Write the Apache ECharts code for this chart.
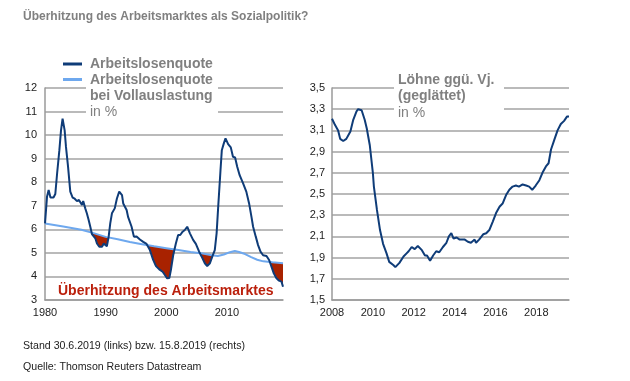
<!DOCTYPE html>
<html><head><meta charset="utf-8">
<script src="https://cdn.jsdelivr.net/npm/echarts@6/dist/echarts.min.js"></script>
<style>html,body{margin:0;padding:0;background:#fff}#c{width:630px;height:381px}</style>
</head><body><div id="c"></div>
<script>
// Left chart: unemployment rate (Arbeitslosenquote), %
const uYears = [1980.0,1980.33,1980.6,1980.9,1981.4,1981.7,1982.0,1982.37,1982.64,1982.9,1983.24,1983.46,1983.8,1984.17,1984.56,1984.9,1985.27,1985.6,1986.1,1986.3,1986.64,1986.9,1987.2,1987.47,1987.74,1988.3,1988.57,1988.95,1989.4,1989.7,1989.96,1990.2,1990.5,1990.76,1991.04,1991.5,1991.86,1992.24,1992.45,1992.7,1992.9,1993.46,1993.7,1994.28,1994.66,1995.1,1995.65,1996.2,1996.75,1997.3,1997.84,1998.3,1998.84,1999.4,1999.77,2000.15,2000.5,2000.76,2001.14,2001.58,2001.96,2002.3,2002.7,2003.06,2003.45,2003.9,2004.43,2004.88,2005.42,2005.8,2006.36,2006.75,2007.2,2007.6,2008.0,2008.3,2008.55,2008.94,2009.16,2009.49,2009.77,2010.2,2010.64,2011.0,2011.35,2011.7,2012.1,2012.67,2013.2,2013.66,2014.05,2014.32,2014.76,2015.14,2015.54,2015.97,2016.53,2016.96,2017.35,2017.73,2018.17,2018.6,2019.0,2019.25];
const uRate = [6.25,7.38,7.67,7.35,7.35,7.5,8.38,9.36,10.2,10.7,10.2,9.5,8.66,7.6,7.35,7.3,7.2,7.25,7.03,7.2,6.89,6.68,6.4,6.11,5.8,5.62,5.4,5.26,5.26,5.4,5.33,5.28,5.69,6.25,6.68,6.89,7.31,7.6,7.62,7.45,7.1,6.82,6.53,6.11,5.69,5.7,5.57,5.47,5.38,5.12,4.7,4.44,4.3,4.2,4.06,3.92,3.93,4.27,4.9,5.4,5.76,5.76,5.9,5.97,6.11,5.83,5.55,5.38,5.05,4.86,4.56,4.44,4.56,4.85,5.12,5.83,6.9,8.5,9.36,9.65,9.86,9.62,9.48,9.08,9.05,8.66,8.3,7.95,7.6,7.1,6.53,6.11,5.69,5.33,5.05,4.9,4.87,4.7,4.41,4.13,3.92,3.82,3.78,3.56];
// Left chart: unemployment rate at full employment (bei Vollauslastung), %
const nYears = [1980,1983,1986,1988,1990,1992,1994,1996,1998,2000,2002,2004,2006,2007.5,2008.5,2009.5,2010.5,2011.3,2012,2013,2014,2015,2016,2017.5,2019.25];
const nRate = [6.25,6.12,5.98,5.84,5.68,5.58,5.46,5.37,5.28,5.2,5.12,5.04,4.97,4.9,4.87,4.93,5.03,5.08,5.04,4.95,4.82,4.71,4.64,4.6,4.56];
// Right chart: wages y/y (smoothed), %
const wYears = [2008.0,2008.15,2008.3,2008.4,2008.55,2008.7,2008.9,2009.04,2009.2,2009.28,2009.45,2009.6,2009.7,2009.85,2010.0,2010.05,2010.2,2010.35,2010.5,2010.67,2010.8,2011.0,2011.1,2011.3,2011.5,2011.65,2011.75,2011.9,2012.05,2012.2,2012.4,2012.55,2012.65,2012.8,2012.95,2013.1,2013.25,2013.43,2013.6,2013.72,2013.84,2013.95,2014.1,2014.25,2014.5,2014.65,2014.8,2014.98,2015.05,2015.2,2015.4,2015.55,2015.7,2015.87,2016.03,2016.2,2016.35,2016.52,2016.68,2016.84,2017.0,2017.15,2017.33,2017.5,2017.65,2017.8,2017.97,2018.15,2018.3,2018.47,2018.6,2018.72,2018.88,2019.04,2019.2,2019.36,2019.5,2019.6];
const wRate = [3.21,3.15,3.10,3.02,3.00,3.02,3.09,3.20,3.28,3.30,3.29,3.20,3.12,2.96,2.70,2.57,2.35,2.16,2.03,1.94,1.86,1.83,1.81,1.85,1.91,1.94,1.96,2.00,1.98,2.01,1.97,1.92,1.92,1.87,1.92,1.96,1.95,2.00,2.04,2.10,2.13,2.08,2.09,2.07,2.07,2.05,2.04,2.07,2.04,2.07,2.12,2.13,2.16,2.24,2.32,2.38,2.41,2.49,2.54,2.57,2.58,2.57,2.59,2.58,2.57,2.54,2.58,2.63,2.70,2.76,2.79,2.92,3.01,3.10,3.16,3.19,3.23,3.23];
// Tick labels
const leftXTicks = [1980,1990,2000,2010];
const rightXTicks = [2008,2010,2012,2014,2016,2018];

const FONT = '"Liberation Sans", Arial, sans-serif';
const DARK = '#0f3c78';
const LIGHT = '#6ea8ee';
const RED_FILL = '#a82200';
const RED_TEXT = '#bb200c';
const GRID = '#a3a3a3';
const AXIS = '#9a9a9a';

function pairs(xs, ys){ return xs.map((x,i)=>[x, ys[i]]); }
function interp(xs, ys, x){
  if (x <= xs[0]) return ys[0];
  for (let i=1;i<xs.length;i++){
    if (x <= xs[i]){ const t=(x-xs[i-1])/(xs[i]-xs[i-1]); return ys[i-1]+t*(ys[i]-ys[i-1]); }
  }
  return ys[ys.length-1];
}

function fillRender(params, api){
  const xs = Array.from(new Set(uYears.concat(nYears))).sort((a,b)=>a-b);
  const runs = []; let run = null;
  for (let i=0;i<xs.length;i++){
    const x = xs[i], u = interp(uYears,uRate,x), n = interp(nYears,nRate,x), d = n-u;
    if (i>0){
      const xp = xs[i-1], up = interp(uYears,uRate,xp), np = interp(nYears,nRate,xp), dp = np-up;
      if ((dp>0) !== (d>0)){
        const t = dp/(dp-d); const xc = xp+t*(x-xp); const vc = up+t*(u-up);
        if (dp>0){ run.upper.push([xc,vc]); run.lower.push([xc,vc]); runs.push(run); run=null; }
        else { run = {upper:[[xc,vc]], lower:[[xc,vc]]}; }
      }
    }
    if (d>0){
      if (!run) run = {upper:[], lower:[]};
      run.upper.push([x,n]); run.lower.push([x,u]);
    }
  }
  if (run) runs.push(run);
  const children = runs.map(r=>{
    const pts = r.upper.map(p=>api.coord(p)).concat(r.lower.slice().reverse().map(p=>api.coord(p)));
    return {type:'polygon', shape:{points:pts}, style:{fill:RED_FILL, stroke:null}};
  });
  return {type:'group', children:children};
}

const chart = echarts.init(document.getElementById('c'), null, {renderer:'canvas'});
const axisLabel = {color:'#222', fontSize:11, fontFamily:FONT};
chart.setOption({
  animation:false,
  backgroundColor:'#fff',
  textStyle:{fontFamily:FONT},
  title:{text:'Überhitzung des Arbeitsmarktes als Sozialpolitik?', left:18, top:6,
    textStyle:{fontSize:12, fontWeight:'bold', color:'#808080', fontFamily:FONT}},
  grid:[
    {left:45, right:347, top:88, bottom:81},
    {left:332, right:61, top:88, bottom:81}
  ],
  xAxis:[
    {type:'value', gridIndex:0, min:1980, max:2019.25, interval:10,
     axisLine:{show:true, lineStyle:{color:AXIS, width:1.5}}, axisTick:{show:false}, splitLine:{show:false},
     axisLabel:Object.assign({margin:7, showMaxLabel:false, formatter:v=>leftXTicks.includes(Math.round(v))&&Math.abs(v-Math.round(v))<1e-6?String(Math.round(v)):''}, axisLabel)},
    {type:'value', gridIndex:1, min:2008, max:2019.6, interval:2,
     axisLine:{show:true, lineStyle:{color:AXIS, width:1.5}}, axisTick:{show:false}, splitLine:{show:false},
     axisLabel:Object.assign({margin:7, showMaxLabel:false, formatter:v=>rightXTicks.includes(Math.round(v))&&Math.abs(v-Math.round(v))<1e-6?String(Math.round(v)):''}, axisLabel)}
  ],
  yAxis:[
    {type:'value', gridIndex:0, min:3, max:12, interval:1,
     axisLine:{show:true, lineStyle:{color:AXIS, width:1.5}}, axisTick:{show:false},
     splitLine:{show:true, lineStyle:{color:GRID, width:1.5}},
     axisLabel:Object.assign({margin:8}, axisLabel)},
    {type:'value', gridIndex:1, min:1.5, max:3.5, interval:0.2,
     axisLine:{show:true, lineStyle:{color:AXIS, width:1.5}}, axisTick:{show:false},
     splitLine:{show:true, lineStyle:{color:GRID, width:1.5}},
     axisLabel:Object.assign({margin:7, formatter:v=>v.toFixed(1).replace('.',',')}, axisLabel)}
  ],
  series:[
    {type:'custom', xAxisIndex:0, yAxisIndex:0, z:1, clip:true, silent:true,
     data:[[1980,6]], renderItem:fillRender},
    {name:'Arbeitslosenquote bei Vollauslastung', type:'line', xAxisIndex:0, yAxisIndex:0, z:3,
     data:pairs(nYears,nRate), showSymbol:false, lineStyle:{color:LIGHT, width:2}},
    {name:'Arbeitslosenquote', type:'line', xAxisIndex:0, yAxisIndex:0, z:4,
     data:pairs(uYears,uRate), showSymbol:false, lineStyle:{color:DARK, width:2}},
    {name:'Löhne ggü. Vj. (geglättet)', type:'line', xAxisIndex:1, yAxisIndex:1, z:4,
     data:pairs(wYears,wRate), showSymbol:false, lineStyle:{color:DARK, width:2}}
  ],
  graphic:[
    {type:'rect', z:5, shape:{x:86, y:82, width:132, height:34}, style:{fill:'#fff'}},
    {type:'rect', z:5, shape:{x:394, y:82, width:110, height:34}, style:{fill:'#fff'}},
    {type:'line', z:6, shape:{x1:63, y1:64, x2:82, y2:64}, style:{stroke:DARK, lineWidth:3}},
    {type:'line', z:6, shape:{x1:63, y1:79.5, x2:82, y2:79.5}, style:{stroke:LIGHT, lineWidth:3}},
    {type:'text', z:6, left:90, top:57, style:{text:'Arbeitslosenquote', fill:'#808080', font:'bold 14px '+FONT}},
    {type:'text', z:6, left:90, top:73, style:{text:'Arbeitslosenquote', fill:'#808080', font:'bold 14px '+FONT}},
    {type:'text', z:6, left:90, top:89, style:{text:'bei Vollauslastung', fill:'#808080', font:'bold 14px '+FONT}},
    {type:'text', z:6, left:90, top:105, style:{text:'in %', fill:'#808080', font:'14px '+FONT}},
    {type:'text', z:6, left:398, top:73, style:{text:'Löhne ggü. Vj.', fill:'#808080', font:'bold 14px '+FONT}},
    {type:'text', z:6, left:398, top:89, style:{text:'(geglättet)', fill:'#808080', font:'bold 14px '+FONT}},
    {type:'text', z:6, left:398, top:106, style:{text:'in %', fill:'#808080', font:'14px '+FONT}},
    {type:'text', z:6, left:58, top:284, style:{text:'Überhitzung des Arbeitsmarktes', fill:RED_TEXT, font:'bold 14px '+FONT}},
    {type:'text', z:6, left:23, top:341, style:{text:'Stand 30.6.2019 (links) bzw. 15.8.2019 (rechts)', fill:'#222', font:'10.6px '+FONT}},
    {type:'text', z:6, left:23, top:362, style:{text:'Quelle: Thomson Reuters Datastream', fill:'#222', font:'10.6px '+FONT}}
  ]
});
</script>
</body></html>
